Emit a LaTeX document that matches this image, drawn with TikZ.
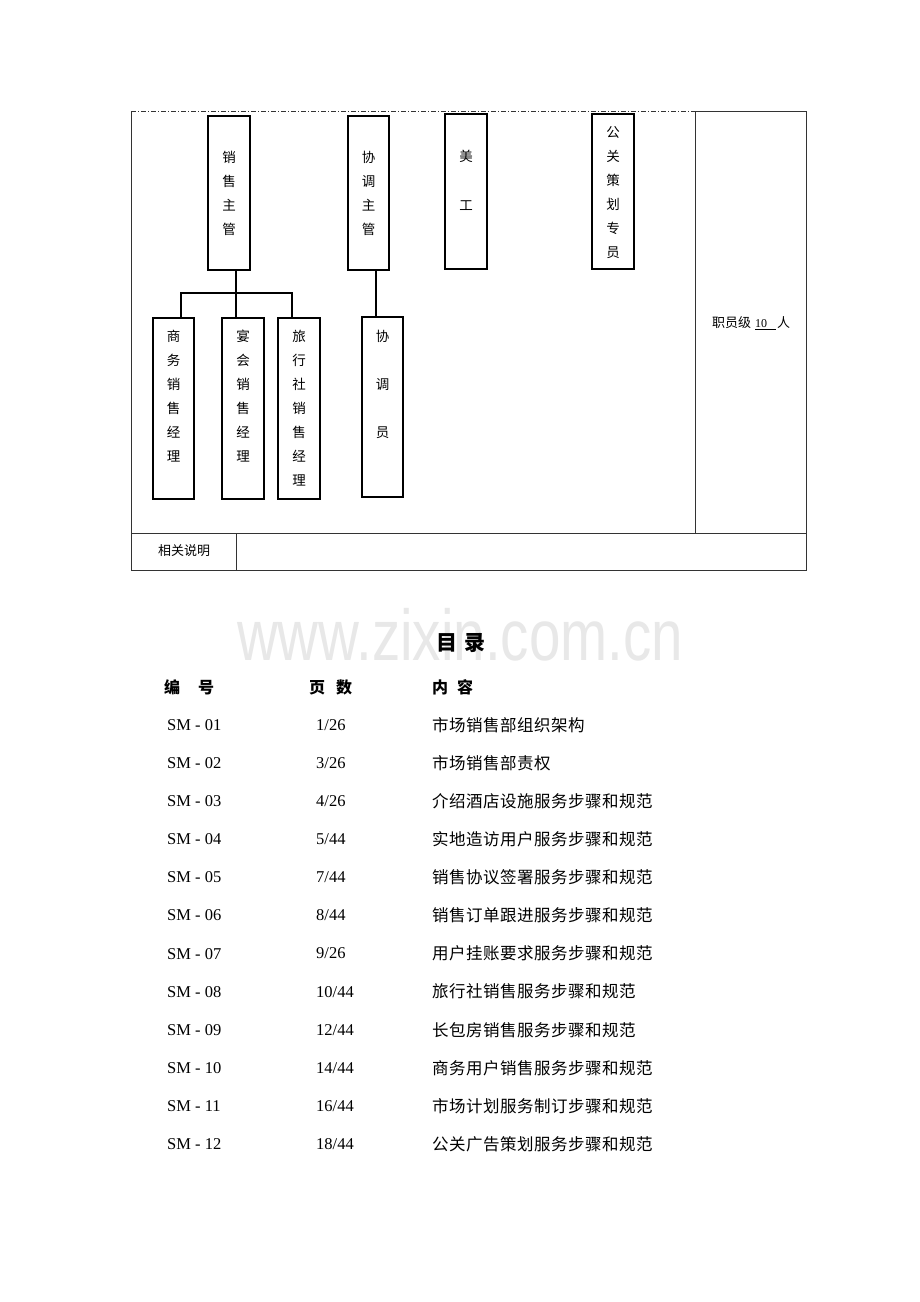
\documentclass[tikz,border=0pt]{standalone}
\usepackage{fontspec}
\setmainfont{Liberation Serif}
\newfontfamily\cjk{Noto Sans CJK SC}
\newfontfamily\cjkl[LetterSpace=3]{Noto Sans CJK SC}
\newfontfamily\wmfont{Liberation Sans}
\begin{document}
\begin{tikzpicture}[x=1pt,y=-1pt,
  box/.style={draw, line width=1.1pt, inner sep=0pt, outer sep=0pt, anchor=north west},
  vt/.style={font=\cjk\fontsize{13.5}{24}\selectfont, align=center, anchor=north, inner sep=0pt},
  tl/.style={line width=0.8pt, draw=black!80},
  cn/.style={line width=1.1pt},
  cell/.style={font=\cjk\fontsize{13}{13}\selectfont, inner sep=0pt},
  hd/.style={font=\cjk\bfseries\fontsize{16}{16}\selectfont, anchor=west, inner sep=0pt},
  c1/.style={font=\rmfamily\fontsize{16.5}{16.5}\selectfont, anchor=west, inner sep=0pt},
  c3/.style={font=\cjkl\fontsize{16.5}{16.5}\selectfont, anchor=west, inner sep=0pt}]
\useasboundingbox[fill=white] (0,0) rectangle (920,1302);

% table frame
\draw[tl, dash pattern=on 5pt off 2pt on 1pt off 2pt] (131,111) -- (695,111);
\draw[tl] (695,111) -- (806,111) -- (806,570) -- (131,570) -- (131,111);
\draw[tl] (695,111) -- (695,533);
\draw[tl] (131,533) -- (806,533);
\draw[tl] (236,533) -- (236,570);

% boxes
\node[box, minimum width=42pt, minimum height=154pt] (xszg) at (208,116) {};
\node[box, minimum width=41pt, minimum height=154pt] (xtzg) at (348,116) {};
\node[box, minimum width=42pt, minimum height=155pt] (mg) at (445,114) {};
\node[box, minimum width=42pt, minimum height=155pt] (gg) at (592,114) {};
\node[box, minimum width=41pt, minimum height=181pt] (sw) at (153,318) {};
\node[box, minimum width=42pt, minimum height=181pt] (yh) at (222,318) {};
\node[box, minimum width=42pt, minimum height=181pt] (lx) at (278,318) {};
\node[box, minimum width=41pt, minimum height=180pt] (xty) at (362,317) {};

% labels
\node[vt] (t1) at (229,151) {销\\售\\主\\管};
\node[vt] (t2) at (368.5,151) {协\\调\\主\\管};
\node[vt] (t3) at (466,150) {美\\[25pt]工};
\node[vt] (t4) at (613,126) {公\\关\\策\\划\\专\\员};
\node[vt] (t5) at (173.5,330) {商\\务\\销\\售\\经\\理};
\node[vt] (t6) at (243,330) {宴\\会\\销\\售\\经\\理};
\node[vt] (t7) at (299,330) {旅\\行\\社\\销\\售\\经\\理};
\node[vt] (t8) at (382.5,330) {协\\[24pt]调\\[24pt]员};

% connectors
\coordinate (j) at (236,293);
\coordinate (jl) at (181,293);
\coordinate (jr) at (292,293);
\coordinate (k) at (376,300);
\draw[cn] (j |- xszg.south) -- (j |- yh.north);
\draw[cn] (jl |- sw.north) -- (jl) -- (jr) -- (jr |- lx.north);
\draw[cn] (k |- xtzg.south) -- (k |- xty.north);

% table texts
\node[cell, anchor=west] (zy) at (712,323) {职员级\hspace{4pt}\underline{\rmfamily\fontsize{12}{12}\selectfont 10\hspace{9pt}}\hspace{1pt}人};
\node[cell] (xg) at (184,551) {相关说明};

% watermark
\node[font=\wmfont\fontsize{72}{72}\selectfont, text=black!9, anchor=base, inner sep=0pt] (wm) at (460,660) {\scalebox{0.785}[1]{www.zixin.com.cn}};

% contents
\node[font=\cjk\bfseries\fontsize{21}{21}\selectfont, anchor=base, inner sep=0pt] (ml) at (461,650) {目\hspace{7pt}录};
\node[hd] (h1) at (164,687) {编\hspace{18pt}号};
\node[hd] (h2) at (309,687) {页\hspace{11pt}数};
\node[hd] (h3) at (432,687) {内\hspace{9pt}容};

\foreach \n/\pa/\pb/\t [count=\i] in {
  01/1/26/市场销售部组织架构,
  02/3/26/市场销售部责权,
  03/4/26/介绍酒店设施服务步骤和规范,
  04/5/44/实地造访用户服务步骤和规范,
  05/7/44/销售协议签署服务步骤和规范,
  06/8/44/销售订单跟进服务步骤和规范,
  07/9/26/用户挂账要求服务步骤和规范,
  08/10/44/旅行社销售服务步骤和规范,
  09/12/44/长包房销售服务步骤和规范,
  10/14/44/商务用户销售服务步骤和规范,
  11/16/44/市场计划服务制订步骤和规范,
  12/18/44/公关广告策划服务步骤和规范} {
  \pgfmathsetmacro{\yy}{725+38.1*(\i-1)}
  \node[c1] (a\i) at (167,\yy) {SM - \n};
  \node[c1] (b\i) at (316,\yy) {\pa/\pb};
  \node[c3] (c\i) at (432,\yy) {\t};
}
\end{tikzpicture}
\end{document}
